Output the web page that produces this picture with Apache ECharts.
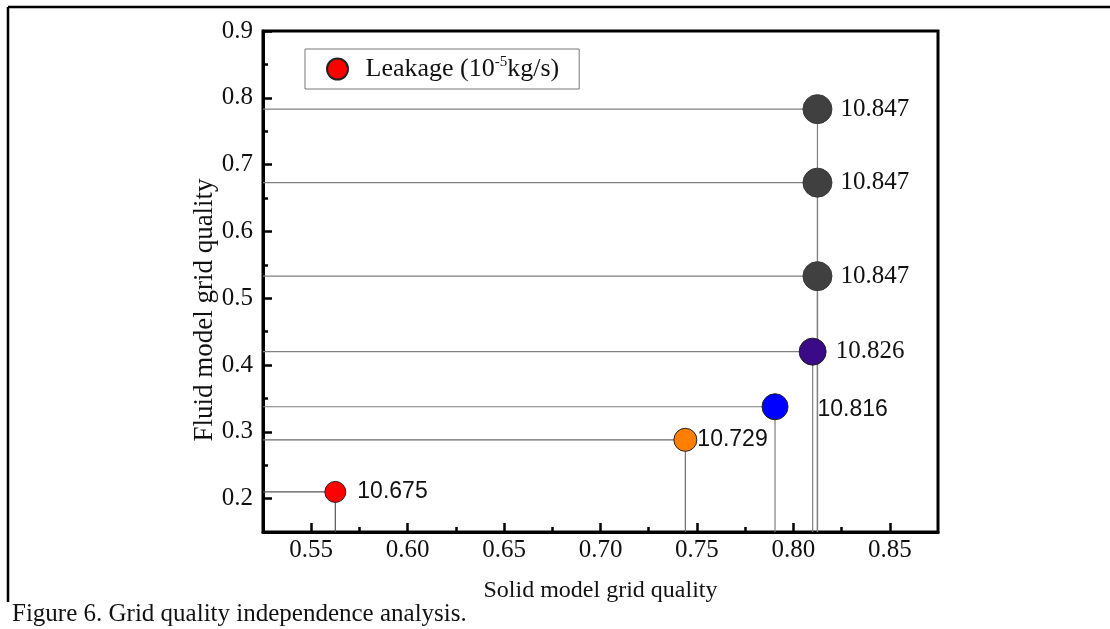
<!DOCTYPE html>
<html>
<head>
<meta charset="utf-8">
<script src="https://cdn.jsdelivr.net/npm/echarts@6/dist/echarts.min.js"></script>
<style>html,body{margin:0;padding:0;background:#fff;}#c{width:1110px;height:629px;}</style>
</head>
<body>
<div id="c"></div>
<script>
// ---- data ----
var solidQuality = [0.5625, 0.744, 0.7905, 0.810, 0.8125, 0.8125, 0.8125];
var fluidQuality = [0.210, 0.288, 0.3375, 0.420, 0.533, 0.673, 0.783];
var leakage = [10.675, 10.729, 10.816, 10.826, 10.847, 10.847, 10.847];
var xTickLabels = [0.55, 0.60, 0.65, 0.70, 0.75, 0.80, 0.85];
var xMinorTicks = [0.575, 0.625, 0.675, 0.725, 0.775, 0.825];
var yTickLabels = [0.2, 0.3, 0.4, 0.5, 0.6, 0.7, 0.8, 0.9];
var yMinorTicks = [0.25, 0.35, 0.45, 0.55, 0.65, 0.75, 0.85];
var X_MIN = 0.525, X_MAX = 0.875, Y_MIN = 0.15, Y_MAX = 0.9;

// ---- styles ----
var pointColors = ['#ff0000', '#ff8000', '#0000ff', '#3b0a87', '#404040', '#404040', '#404040'];
var pointSizes = [21, 23, 26, 27, 29, 29, 29];
var dropColors = ['#555555', '#6a6a6a', '#808080', '#808080', '#808080', '#808080', '#808080'];
var serif = "'Liberation Serif', 'Times New Roman', serif";
var sans = "'Liberation Sans', Arial, sans-serif";
var labelStyles = [
  {distance: 11, fontFamily: sans, fontSize: 23},
  {distance: 0, fontFamily: sans, fontSize: 23},
  {distance: 29, fontFamily: sans, fontSize: 23, offset: [0, 3]},
  {distance: 9, fontFamily: serif, fontSize: 25},
  {distance: 8, fontFamily: serif, fontSize: 25},
  {distance: 8, fontFamily: serif, fontSize: 25},
  {distance: 8, fontFamily: serif, fontSize: 25}
];

var chart = echarts.init(document.getElementById('c'), null, {renderer: 'canvas'});

var series = [];
solidQuality.forEach(function (x, i) {
  var y = fluidQuality[i];
  series.push({
    type: 'line',
    name: 'drop' + i,
    data: [[X_MIN, y], [x, y], [x, Y_MIN]],
    symbol: 'none',
    lineStyle: {color: dropColors[i], width: 1.2},
    silent: true,
    z: 1
  });
});

series.push({
  type: 'scatter',
  name: 'Leakage',
  z: 5,
  itemStyle: {color: '#ff0000', borderColor: '#222', borderWidth: 1, opacity: 1},
  data: solidQuality.map(function (x, i) {
    var ls = labelStyles[i];
    return {
      value: [x, fluidQuality[i]],
      symbolSize: pointSizes[i],
      itemStyle: {color: pointColors[i], borderColor: i >= 4 ? '#3a3a3a' : '#222'},
      label: {
        show: true,
        position: 'right',
        distance: ls.distance,
        offset: ls.offset || [0, 0],
        fontFamily: ls.fontFamily,
        fontSize: ls.fontSize,
        color: '#111',
        formatter: function (p) { return leakage[p.dataIndex].toFixed(3); }
      }
    };
  })
});

var option = {
  animation: false,
  backgroundColor: '#fff',
  grid: {left: 263, right: 172, top: 31, bottom: 97, show: true, borderColor: '#000', borderWidth: 3, backgroundColor: 'transparent'},
  legend: {
    data: [{name: 'Leakage', icon: 'circle'}],
    left: 305, top: 49,
    orient: 'horizontal',
    itemWidth: 46, itemHeight: 21,
    padding: [6, 20, 6, 21],
    borderColor: '#777', borderWidth: 1,
    selectedMode: false,
    formatter: function () { return 'Leakage (10{sup|-5}kg/s)'; },
    textStyle: {
      fontFamily: serif, fontSize: 26, color: '#111', lineHeight: 28,
      rich: {sup: {fontFamily: serif, fontSize: 15, verticalAlign: 'top', lineHeight: 28, padding: [0, 0, 10, 0]}}
    }
  },
  xAxis: [{
    type: 'value', min: X_MIN, max: X_MAX, position: 'bottom',
    name: 'Solid model grid quality', nameLocation: 'middle', nameGap: 47,
    nameTextStyle: {fontFamily: serif, fontSize: 24, color: '#111'},
    axisLine: {show: true, lineStyle: {color: '#000', width: 3}},
    axisTick: {show: true, inside: true, length: 9, customValues: xTickLabels, lineStyle: {color: '#000', width: 2.5}},
    axisLabel: {show: true, customValues: xTickLabels, margin: 6, fontFamily: serif, fontSize: 25, color: '#111',
      formatter: function (v) { return v.toFixed(2); }},
    splitLine: {show: false}
  }, {
    type: 'value', min: X_MIN, max: X_MAX, position: 'bottom',
    axisLine: {show: false},
    axisTick: {show: true, inside: true, length: 5, customValues: xMinorTicks, lineStyle: {color: '#000', width: 2.5}},
    axisLabel: {show: false},
    splitLine: {show: false}
  }],
  yAxis: [{
    type: 'value', min: Y_MIN, max: Y_MAX, position: 'left',
    name: 'Fluid model grid quality', nameLocation: 'middle', nameGap: 45, nameRotate: 90,
    nameMoveOverlap: false,
    nameTextStyle: {fontFamily: serif, fontSize: 27, color: '#111', padding: [0, 57, 0, 0]},
    axisLine: {show: true, lineStyle: {color: '#000', width: 3}},
    axisTick: {show: true, inside: true, length: 9, customValues: yTickLabels, lineStyle: {color: '#000', width: 2.5}},
    axisLabel: {show: true, customValues: yTickLabels, margin: 10, fontFamily: serif, fontSize: 25, color: '#111',
      formatter: function (v) { return v.toFixed(1); }},
    splitLine: {show: false}
  }, {
    type: 'value', min: Y_MIN, max: Y_MAX, position: 'left',
    axisLine: {show: false},
    axisTick: {show: true, inside: true, length: 5, customValues: yMinorTicks, lineStyle: {color: '#000', width: 2.5}},
    axisLabel: {show: false},
    splitLine: {show: false}
  }],
  graphic: [
    {type: 'line', shape: {x1: 8, y1: 7, x2: 1110, y2: 7}, style: {stroke: '#000', lineWidth: 2.5}, silent: true},
    {type: 'line', shape: {x1: 8, y1: 7, x2: 8, y2: 602}, style: {stroke: '#000', lineWidth: 2.5}, silent: true},
    {type: 'text', left: 12, top: 602, style: {text: 'Figure 6. Grid quality independence analysis.', font: "25px 'Liberation Serif', 'Times New Roman', serif", fill: '#111'}, silent: true}
  ],
  series: series
};
chart.setOption(option);
</script>
</body>
</html>
